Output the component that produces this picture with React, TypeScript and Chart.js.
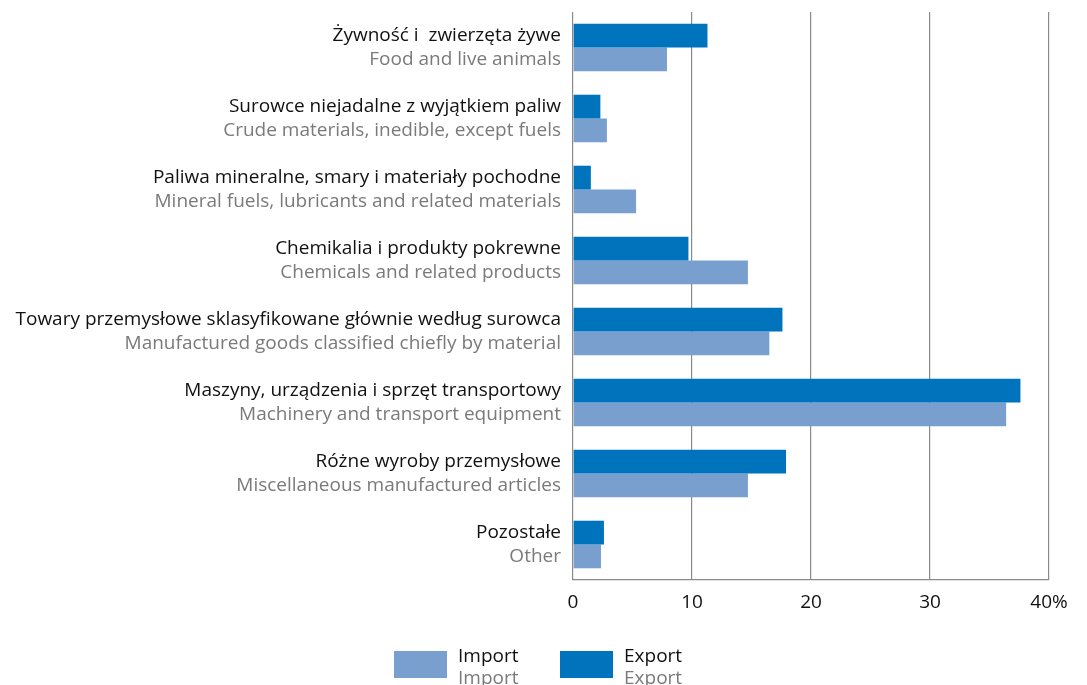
import React, { useEffect, useRef } from "react";
import { Chart, registerables } from "chart.js";

Chart.register(...registerables);

const categoriesPl = [
  "Żywność i  zwierzęta żywe",
  "Surowce niejadalne z wyjątkiem paliw",
  "Paliwa mineralne, smary i materiały pochodne",
  "Chemikalia i produkty pokrewne",
  "Towary przemysłowe sklasyfikowane głównie według surowca",
  "Maszyny, urządzenia i sprzęt transportowy",
  "Różne wyroby przemysłowe",
  "Pozostałe",
];
const categoriesEn = [
  "Food and live animals",
  "Crude materials, inedible, except fuels",
  "Mineral fuels, lubricants and related materials",
  "Chemicals and related products",
  "Manufactured goods classified chiefly by material",
  "Machinery and transport equipment",
  "Miscellaneous manufactured articles",
  "Other",
];
const exportValues = [11.3, 2.3, 1.5, 9.7, 17.6, 37.6, 17.9, 2.6];
const importValues = [7.9, 2.85, 5.3, 14.7, 16.5, 36.4, 14.7, 2.35];
const xTicks = [0, 10, 20, 30, 40];

const EXPORT_COLOR = "#0073BD";
const IMPORT_COLOR = "#789FCD";
const GRAY_TEXT = "#7a7a7a";
const FONT = "'Open Sans', sans-serif";

export default function App() {
  const canvasRef = useRef<HTMLCanvasElement | null>(null);

  useEffect(() => {
    const canvas = canvasRef.current;
    if (!canvas) return;

    const labelPlugin = {
      id: "twoLineLabels",
      afterDraw(chart: any) {
        const ctx = chart.ctx;
        const yScale = chart.scales.y;
        const x = chart.chartArea.left - 12;
        ctx.save();
        ctx.textAlign = "right";
        ctx.textBaseline = "middle";
        ctx.font = `19px ${FONT}`;
        categoriesPl.forEach((pl, i) => {
          const y = yScale.getPixelForValue(i);
          ctx.fillStyle = "#111";
          ctx.fillText(pl, x, y - 12);
          ctx.fillStyle = GRAY_TEXT;
          ctx.fillText(categoriesEn[i], x, y + 12);
        });
        ctx.restore();
      },
    };

    const chart = new Chart(canvas, {
      type: "bar",
      data: {
        labels: categoriesPl,
        datasets: [
          {
            label: "Export",
            data: exportValues,
            backgroundColor: EXPORT_COLOR,
            barPercentage: 1,
            categoryPercentage: 0.67,
          },
          {
            label: "Import",
            data: importValues,
            backgroundColor: IMPORT_COLOR,
            barPercentage: 1,
            categoryPercentage: 0.67,
          },
        ],
      },
      options: {
        indexAxis: "y",
        animation: false,
        responsive: false,
        maintainAspectRatio: false,
        layout: { padding: { top: 12, right: 38, left: 0, bottom: 0 } },
        plugins: { legend: { display: false }, tooltip: { enabled: false } },
        scales: {
          x: {
            min: 0,
            max: 40,
            afterBuildTicks(scale: any) {
              scale.ticks = xTicks.map((v) => ({ value: v }));
            },
            afterFit(scale: any) {
              scale.height = 105;
            },
            grid: { color: "#8a8a8a", lineWidth: 1.2, drawTicks: false },
            border: { color: "#8a8a8a", width: 1.2 },
            ticks: {
              padding: 11,
              color: "#111",
              font: { family: FONT, size: 19 },
              callback: (v: any) => (v === 40 ? "40%" : String(v)),
            },
          },
          y: {
            afterFit(scale: any) {
              scale.width = 573;
            },
            grid: { display: false, drawTicks: false },
            border: { display: false },
            ticks: { display: false },
          },
        },
      },
      plugins: [labelPlugin],
    });
    return () => chart.destroy();
  }, []);

  const legendItem = (left: number, color: string, text: string) => (
    <div style={{ position: "absolute", left, top: 644, display: "flex", alignItems: "flex-start" }}>
      <div style={{ width: 53, height: 27, background: color, marginTop: 7 }} />
      <div style={{ marginLeft: 11, fontFamily: FONT, fontSize: 19, lineHeight: "22px" }}>
        <div style={{ color: "#111" }}>{text}</div>
        <div style={{ color: GRAY_TEXT }}>{text}</div>
      </div>
    </div>
  );

  return (
    <div
      style={{
        position: "fixed",
        left: 0,
        top: 0,
        width: 1087,
        height: 685,
        overflow: "hidden",
        background: "#fff",
      }}
    >
      <canvas ref={canvasRef} width={1087} height={685} style={{ display: "block" }} />
      {legendItem(394, IMPORT_COLOR, "Import")}
      {legendItem(560, EXPORT_COLOR, "Export")}
    </div>
  );
}
